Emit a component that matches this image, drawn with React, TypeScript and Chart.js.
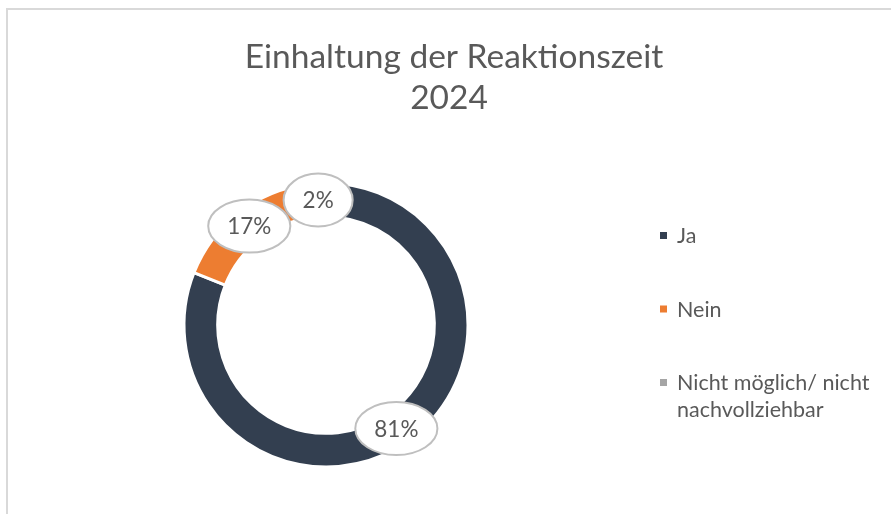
import React, { useEffect, useRef } from "react";
import { Chart, registerables } from "chart.js";

Chart.register(...registerables);

const titleLines = ["Einhaltung der Reaktionszeit", "2024"];
const categories = ["Ja", "Nein", "Nicht möglich/ nicht nachvollziehbar"];
const legendLines = [["Ja"], ["Nein"], ["Nicht möglich/ nicht", "nachvollziehbar"]];
const values = [81, 17, 2];
const colors = ["#333F50", "#ED7D31", "#A5A5A5"];

const FONT = 'Lato, "Open Sans", "Noto Sans", sans-serif';
const TEXT = "#595959";

const decorPlugin = {
  id: "decor",
  afterDatasetsDraw(chart: any) {
    const ctx = chart.ctx as CanvasRenderingContext2D;
    const meta = chart.getDatasetMeta(0);
    const data = chart.data.datasets[0].data as number[];
    const total = data.reduce((a, b) => a + b, 0);
    ctx.save();
    // data label callouts
    ctx.font = `22.5px ${FONT}`;
    meta.data.forEach((arc: any, i: number) => {
      const p = arc.getCenterPoint();
      const txt = `${Math.round((data[i] / total) * 100)}%`;
      const tw = ctx.measureText(txt).width;
      const rx = tw / 2 + 19;
      const ry = 26.5;
      ctx.beginPath();
      ctx.ellipse(p.x, p.y, rx, ry, 0, 0, Math.PI * 2);
      ctx.fillStyle = "#ffffff";
      ctx.fill();
      ctx.lineWidth = 2;
      ctx.strokeStyle = "#BFBFBF";
      ctx.stroke();
      ctx.fillStyle = TEXT;
      ctx.textAlign = "center";
      ctx.textBaseline = "middle";
      ctx.fillText(txt, p.x, p.y + 1);
    });
    ctx.restore();
  },
  afterDraw(chart: any) {
    const ctx = chart.ctx as CanvasRenderingContext2D;
    ctx.save();
    // title
    ctx.fillStyle = TEXT;
    ctx.textAlign = "center";
    ctx.textBaseline = "alphabetic";
    ctx.font = `400 33.5px ${FONT}`;
    ctx.fillText(titleLines[0], 454, 68);
    ctx.fillText(titleLines[1], 449, 109);
    // legend
    const ys = [235.5, 309, 382.5];
    const bg = chart.data.datasets[0].backgroundColor as string[];
    ctx.font = `21.5px ${FONT}`;
    ctx.textAlign = "left";
    ctx.textBaseline = "middle";
    legendLines.forEach((lines, i) => {
      ctx.fillStyle = bg[i];
      ctx.fillRect(660, ys[i] - 3.5, 7, 7);
      ctx.fillStyle = TEXT;
      lines.forEach((ln, j) => {
        ctx.fillText(ln, 677, ys[i] + j * 27 + 1);
      });
    });
    ctx.restore();
  },
};

export default function App() {
  const ref = useRef<HTMLCanvasElement | null>(null);
  useEffect(() => {
    document.body.style.overflow = "hidden";
    const chart = new Chart(ref.current as HTMLCanvasElement, {
      type: "doughnut",
      data: {
        labels: categories,
        datasets: [
          {
            data: values,
            backgroundColor: colors,
            borderColor: "#ffffff",
            borderWidth: 3,
            hoverOffset: 0,
            offset: 0,
          },
        ],
      },
      options: {
        responsive: false,
        animation: false,
        cutout: "76.3%",
        layout: { padding: { left: 182.5, right: 421.5, top: 181.5, bottom: 45.5 } },
        plugins: {
          legend: { display: false },
          title: { display: false },
          tooltip: { enabled: false },
        },
      },
      plugins: [decorPlugin],
    });
    return () => chart.destroy();
  }, []);
  return (
    <div>
      <div
        style={{
          position: "fixed",
          left: 6,
          top: 8,
          width: 885,
          height: 506,
          borderTop: "2px solid #D9D9D9",
          borderLeft: "2px solid #D9D9D9",
          boxSizing: "border-box",
          background: "#fff",
        }}
      />
      <canvas
        ref={ref}
        width={891}
        height={514}
        style={{ position: "fixed", left: 0, top: 0, width: 891, height: 514 }}
      />
    </div>
  );
}
